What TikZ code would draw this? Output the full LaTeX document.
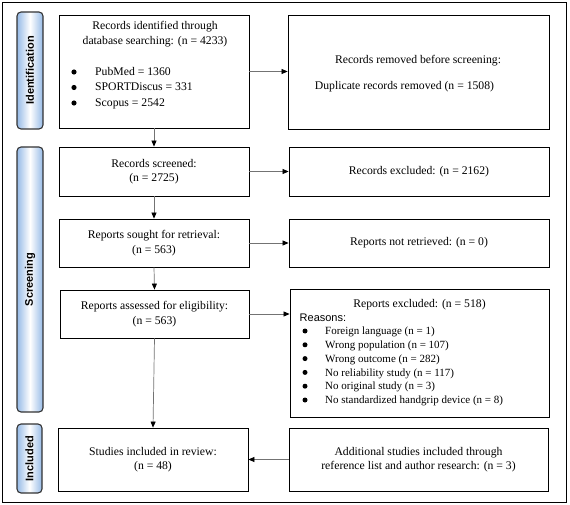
\documentclass[tikz,border=0pt]{standalone}
\usepackage{fontspec}
\setmainfont{Liberation Serif}
\newfontfamily\arialfont{Liberation Sans}
\usetikzlibrary{arrows.meta}
\definecolor{sideblue}{RGB}{150,186,230}
\begin{document}
\begin{tikzpicture}[x=1pt,y=-1pt,
  box/.style={draw=black, line width=0.8pt, inner sep=0pt},
  txt/.style={inner sep=0pt, font=\fontsize{11.7}{14.5}\selectfont, align=center},
  lst/.style={inner sep=0pt, align=left},
  side/.style={draw=black!80, line width=1.1pt, rounded corners=4pt, left color=sideblue, right color=sideblue, middle color=white, inner sep=0pt},
  sidetxt/.style={inner sep=0pt, rotate=90, font=\arialfont\bfseries\fontsize{11}{13}\selectfont},
  bulletdot/.style={fill=black},
  arr/.style={draw=black!55, line width=0.7pt, -{Triangle[length=6pt,width=5pt,black]}}]
\useasboundingbox (0,0) rectangle (570,505);
\draw[line width=0.8pt] (2,2) rectangle (566,502);

% side labels
\node[side, minimum height=117pt, minimum width=26pt] (lid) at (30,70.5) {};
\node[sidetxt] (lidt) at (lid.center) {Identification};
\node[side, minimum height=265pt, minimum width=26pt] (lscr) at (30,279.5) {};
\node[sidetxt] (lscrt) at (lscr.center) {Screening};
\node[side, minimum height=69pt, minimum width=25pt] (linc) at (29.5,458.5) {};
\node[sidetxt] (linct) at (linc.center) {Included};

% left column
\node[box, minimum width=190pt, minimum height=113pt] (id) at (154,71.5) {};
\node[txt] (idt) at (155,34) {Records identified through\\database searching: (n = 4233)};
\node[lst, font=\fontsize{11.7}{15.5}\selectfont, anchor=west] (idl) at (95,88)
  {PubMed = 1360\\SPORTDiscus = 331\\Scopus = 2542};
\foreach \yy in {72,87.5,103} \fill[bulletdot] (74,\yy) circle (2.6pt);

\node[box, minimum width=190pt, minimum height=49pt, txt] (scr) at (154,171.5) {Records screened:\\(n = 2725)};
\node[box, minimum width=190pt, minimum height=48pt, txt] (sou) at (154,243) {Reports sought for retrieval:\\(n = 563)};
\node[box, minimum width=189pt, minimum height=48pt, txt] (ass) at (154.5,314) {Reports assessed for eligibility:\\(n = 563)};
\node[box, minimum width=190pt, minimum height=63pt, txt] (inc) at (153,459.5) {Studies included in review:\\(n = 48)};

% right column
\node[box, minimum width=261pt, minimum height=114pt] (rem) at (418.5,72) {};
\node[txt] (remt) at (418,61) {Records removed before screening:};
\node[txt] (remd) at (404.5,87) {Duplicate records removed (n = 1508)};

\node[box, minimum width=260pt, minimum height=49pt, txt] (exc) at (419,171.5) {Records excluded: (n = 2162)};
\node[box, minimum width=260pt, minimum height=48pt, txt] (nr) at (419,243) {Reports not retrieved: (n = 0)};

\node[box, minimum width=259pt, minimum height=128pt] (rex) at (419.5,353) {};
\node[txt] (rext) at (419.5,305) {Reports excluded: (n = 518)};
\node[inner sep=0pt, anchor=west, font=\arialfont\fontsize{11}{13}\selectfont] (rea) at (299.5,318) {Reasons:};
\node[lst, font=\fontsize{11}{13.8}\selectfont, anchor=west] (rel) at (325,366.5)
  {Foreign language (n = 1)\\
   Wrong population (n = 107)\\
   Wrong outcome (n = 282)\\
   No reliability study (n = 117)\\
   No original study (n = 3)\\
   No standardized handgrip device (n = 8)};
\foreach \yy in {331,344.8,358.6,372.4,386.2,400} \fill[bulletdot] (305,\yy) circle (2.5pt);

\node[box, minimum width=259pt, minimum height=63pt, txt] (add) at (418.5,459.5) {Additional studies included through\\reference list and author research: (n = 3)};

% connectors
\draw[arr] (id.south) -- (scr.north);
\draw[arr] (scr.south) -- (sou.north);
\draw[arr] (sou.south) -- (ass.north);
\draw[arr] (ass.south) -- (inc.north);
\draw[arr] (id.east) -- (id.east -| rem.west);
\draw[arr] (scr.east) -- (scr.east -| exc.west);
\draw[arr] (sou.east) -- (sou.east -| nr.west);
\draw[arr] (ass.east) -- (ass.east -| rex.west);
\draw[arr] (add.west) -- (add.west -| inc.east);
\end{tikzpicture}
\end{document}
